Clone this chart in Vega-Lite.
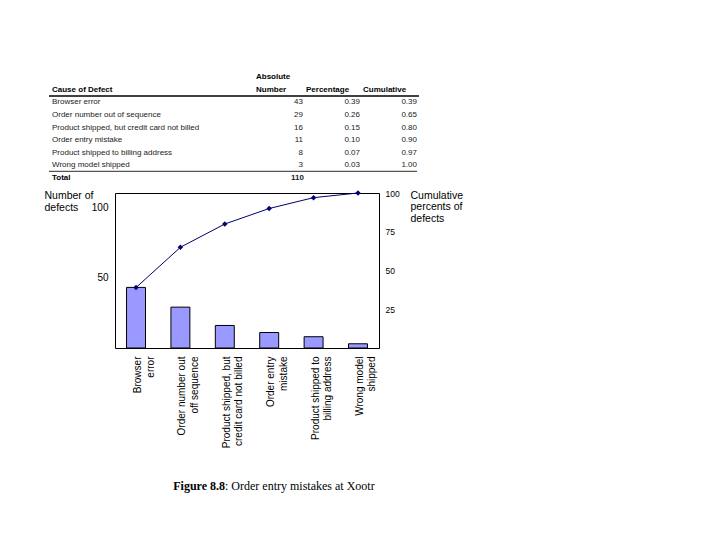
{
  "$schema": "https://vega.github.io/schema/vega-lite/v6.json",
  "background": "white",
  "padding": {"left": 43, "top": 71, "right": 5, "bottom": 5},
  "bounds": "flush",
  "spacing": 9,
  "config": {
    "view": {"stroke": null},
    "font": "Liberation Sans",
    "axis": {"labelColor": "black", "titleColor": "black", "labelFont": "Liberation Sans", "titleFont": "Liberation Sans"}
  },
  "datasets": {
    "defects": [
      {"cause": "Browser error", "label": "Browser|error", "number": 43, "percentage": 0.39, "cumulative": 0.39},
      {"cause": "Order number out of sequence", "label": "Order number out|off sequence", "number": 29, "percentage": 0.26, "cumulative": 0.65},
      {"cause": "Product shipped, but credit card not billed", "label": "Product shipped, but|credit card not billed", "number": 16, "percentage": 0.15, "cumulative": 0.80},
      {"cause": "Order entry mistake", "label": "Order entry|mistake", "number": 11, "percentage": 0.10, "cumulative": 0.90},
      {"cause": "Product shipped to billing address", "label": "Product shipped to|billing address", "number": 8, "percentage": 0.07, "cumulative": 0.97},
      {"cause": "Wrong model shipped", "label": "Wrong model|shipped", "number": 3, "percentage": 0.03, "cumulative": 1.00}
    ]
  },
  "vconcat": [
    {
      "width": 304,
      "height": 113,
      "data": {"name": "defects"},
      "encoding": {
        "y": {
          "field": "cause", "type": "nominal",
          "scale": {"domain": ["Absolute", "Number", "Browser error", "Order number out of sequence", "Product shipped, but credit card not billed", "Order entry mistake", "Product shipped to billing address", "Wrong model shipped", "Total"], "paddingInner": 0, "paddingOuter": 0},
          "axis": null
        }
      },
      "layer": [
        {
          "mark": {"type": "text", "align": "left", "baseline": "middle", "fontSize": 8, "color": "#222"},
          "encoding": {
            "x": {"datum": -0.2072, "type": "quantitative", "scale": {"domain": [0, 1]}, "axis": null},
            "text": {"field": "cause"}
          }
        },
        {
          "mark": {"type": "text", "align": "right", "baseline": "middle", "fontSize": 8, "color": "#222"},
          "encoding": {
            "x": {"datum": 0.6184, "type": "quantitative", "scale": {"domain": [0, 1]}, "axis": null},
            "text": {"field": "number"}
          }
        },
        {
          "mark": {"type": "text", "align": "right", "baseline": "middle", "fontSize": 8, "color": "#222"},
          "encoding": {
            "x": {"datum": 0.8059, "type": "quantitative", "scale": {"domain": [0, 1]}, "axis": null},
            "text": {"field": "percentage", "format": ".2f"}
          }
        },
        {
          "mark": {"type": "text", "align": "right", "baseline": "middle", "fontSize": 8, "color": "#222"},
          "encoding": {
            "x": {"datum": 0.9934, "type": "quantitative", "scale": {"domain": [0, 1]}, "axis": null},
            "text": {"field": "cumulative", "format": ".2f"}
          }
        },
        {
          "transform": [{"aggregate": [{"op": "sum", "field": "number", "as": "total"}]}],
          "mark": {"type": "text", "align": "right", "baseline": "middle", "fontSize": 8, "fontWeight": "bold", "color": "#222"},
          "encoding": {
            "x": {"datum": 0.6217, "type": "quantitative", "scale": {"domain": [0, 1]}, "axis": null},
            "y": {"datum": "Total", "type": "nominal"},
            "text": {"field": "total"}
          }
        },
        {
          "data": {"values": [{}]},
          "mark": {"type": "text", "text": "Total", "align": "left", "baseline": "middle", "fontSize": 8, "fontWeight": "bold", "color": "black"},
          "encoding": {
            "x": {"datum": -0.2072, "type": "quantitative", "scale": {"domain": [0, 1]}, "axis": null},
            "y": {"datum": "Total", "type": "nominal"}
          }
        },
        {
          "data": {"values": [{}]},
          "mark": {"type": "text", "text": "Cause of Defect", "align": "left", "baseline": "middle", "fontSize": 8, "fontWeight": "bold", "color": "black"},
          "encoding": {
            "x": {"datum": -0.2072, "type": "quantitative", "scale": {"domain": [0, 1]}, "axis": null},
            "y": {"datum": "Number", "type": "nominal"}
          }
        },
        {
          "data": {"values": [{}]},
          "mark": {"type": "text", "text": "Absolute", "align": "left", "baseline": "middle", "fontSize": 8, "fontWeight": "bold", "color": "black"},
          "encoding": {
            "x": {"datum": 0.4638, "type": "quantitative", "scale": {"domain": [0, 1]}, "axis": null},
            "y": {"datum": "Absolute", "type": "nominal"}
          }
        },
        {
          "data": {"values": [{}]},
          "mark": {"type": "text", "text": "Number", "align": "left", "baseline": "middle", "fontSize": 8, "fontWeight": "bold", "color": "black"},
          "encoding": {
            "x": {"datum": 0.4638, "type": "quantitative", "scale": {"domain": [0, 1]}, "axis": null},
            "y": {"datum": "Number", "type": "nominal"}
          }
        },
        {
          "data": {"values": [{}]},
          "mark": {"type": "text", "text": "Percentage", "align": "left", "baseline": "middle", "fontSize": 8, "fontWeight": "bold", "color": "black"},
          "encoding": {
            "x": {"datum": 0.6283, "type": "quantitative", "scale": {"domain": [0, 1]}, "axis": null},
            "y": {"datum": "Number", "type": "nominal"}
          }
        },
        {
          "data": {"values": [{}]},
          "mark": {"type": "text", "text": "Cumulative", "align": "left", "baseline": "middle", "fontSize": 8, "fontWeight": "bold", "color": "black"},
          "encoding": {
            "x": {"datum": 0.8158, "type": "quantitative", "scale": {"domain": [0, 1]}, "axis": null},
            "y": {"datum": "Number", "type": "nominal"}
          }
        },
        {
          "data": {"values": [{}]},
          "mark": {"type": "rule", "color": "black", "strokeWidth": 1.5},
          "encoding": {
            "x": {"datum": -0.2171, "type": "quantitative", "scale": {"domain": [0, 1]}, "axis": null},
            "x2": {"datum": 1.0},
            "y": {"datum": "Browser error", "type": "nominal", "bandPosition": 0}
          }
        },
        {
          "data": {"values": [{}]},
          "mark": {"type": "rule", "color": "#555", "strokeWidth": 1.2},
          "encoding": {
            "x": {"datum": -0.2171, "type": "quantitative", "scale": {"domain": [0, 1]}, "axis": null},
            "x2": {"datum": 0.9934},
            "y": {"datum": "Total", "type": "nominal", "bandPosition": 0}
          }
        }
      ]
    },
    {
      "width": 264,
      "height": 155,
      "view": {"stroke": "black", "strokeWidth": 1},
      "data": {"name": "defects"},
      "encoding": {
        "x": {
          "field": "label", "type": "nominal", "sort": null,
          "scale": {"paddingInner": 0.573, "paddingOuter": 0.26},
          "axis": {
            "title": null, "labelAngle": -90, "labelAlign": "right", "labelBaseline": "middle",
            "labelExpr": "split(datum.label, '|')", "labelFontSize": 10, "labelLineHeight": 12.5,
            "labelPadding": 8, "labelOffset": 2, "ticks": false, "tickSize": 0, "domain": false, "labelLimit": 300
          }
        }
      },
      "layer": [
        {
          "mark": {"type": "bar", "fill": "#9999ff", "stroke": "black", "strokeWidth": 1},
          "encoding": {
            "y": {
              "field": "number", "type": "quantitative",
              "scale": {"domain": [0, 110]},
              "axis": {
                "orient": "left", "values": [50, 100], "grid": false, "ticks": false, "tickSize": 0, "domain": false,
                "labelFontSize": 10, "labelPadding": 7,
                "title": ["Number of", "defects"], "titleAngle": 0, "titleAlign": "left", "titleBaseline": "top",
                "titleX": -71, "titleY": -3, "titleFontSize": 10.5, "titleFontWeight": "normal", "titleLineHeight": 12
              }
            }
          }
        },
        {
          "mark": {"type": "line", "color": "#000070", "strokeWidth": 1, "point": {"shape": "diamond", "filled": true, "size": 30, "color": "#000070"}},
          "encoding": {
            "y": {
              "field": "cumulative", "type": "quantitative",
              "scale": {"domain": [0, 1]},
              "axis": {
                "orient": "right", "values": [0.25, 0.5, 0.75, 1], "labelExpr": "format(datum.value * 100, 'd')",
                "grid": false, "ticks": false, "tickSize": 0, "domain": false,
                "labelFontSize": 8.5, "labelPadding": 6,
                "title": ["Cumulative", "percents of", "defects"], "titleAngle": 0, "titleAlign": "left", "titleBaseline": "top",
                "titleX": 31, "titleY": -3, "titleFontSize": 10.5, "titleFontWeight": "normal", "titleLineHeight": 11.5
              }
            }
          }
        }
      ],
      "resolve": {"scale": {"y": "independent"}}
    },
    {
      "width": 264,
      "height": 140,
      "data": {"values": [{}]},
      "layer": [
        {
          "mark": {"type": "text", "text": "Figure 8.8", "align": "right", "baseline": "middle", "font": "Liberation Serif", "fontSize": 12, "fontWeight": "bold", "color": "black"},
          "encoding": {
            "x": {"datum": 0.4167, "type": "quantitative", "scale": {"domain": [0, 1]}, "axis": null},
            "y": {"datum": 0.0786, "type": "quantitative", "scale": {"domain": [0, 1]}, "axis": null}
          }
        },
        {
          "mark": {"type": "text", "text": ": Order entry mistakes at Xootr", "align": "left", "baseline": "middle", "font": "Liberation Serif", "fontSize": 12, "color": "black"},
          "encoding": {
            "x": {"datum": 0.4167, "type": "quantitative", "scale": {"domain": [0, 1]}, "axis": null},
            "y": {"datum": 0.0786, "type": "quantitative", "scale": {"domain": [0, 1]}, "axis": null}
          }
        }
      ]
    }
  ]
}
